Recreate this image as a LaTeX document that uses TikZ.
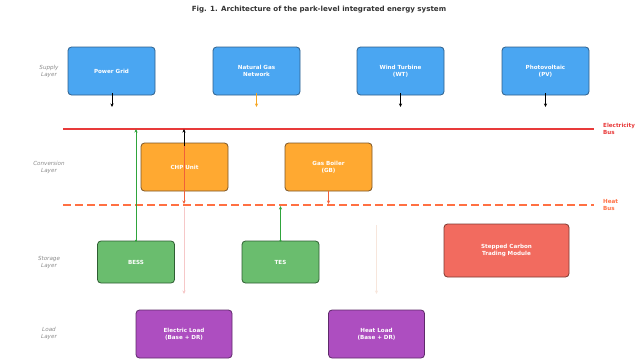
\documentclass[tikz,border=0pt]{standalone}
\usepackage{fontspec}
\setmainfont{DejaVu Sans}
\usetikzlibrary{arrows.meta}
\definecolor{cblue}{HTML}{4AA6F2}
\definecolor{cblueE}{HTML}{2F5F8A}
\definecolor{corange}{HTML}{FFA931}
\definecolor{corangeE}{HTML}{7A5528}
\definecolor{cgreen}{HTML}{6ABD6E}
\definecolor{cgreenE}{HTML}{2E5E32}
\definecolor{cpurple}{HTML}{AD4EC0}
\definecolor{cpurpleE}{HTML}{5E2A6A}
\definecolor{cred}{HTML}{F26B5F}
\definecolor{credE}{HTML}{7E3A32}
\definecolor{ebus}{HTML}{E83A3A}
\definecolor{hbus}{HTML}{FF7043}
\definecolor{cgas}{HTML}{F5A623}
\definecolor{cheat}{HTML}{F0603A}
\definecolor{felec}{HTML}{F6C8C8}
\definecolor{fheat}{HTML}{F7E6DC}
\definecolor{layergray}{HTML}{8A8A8A}
\definecolor{titlegray}{HTML}{333333}
\definecolor{arrgreen}{HTML}{2FA43C}
\begin{document}
\begin{tikzpicture}[x=1pt,y=-1pt,
  box/.style={draw, rounded corners=3.5pt, line width=0.8pt, align=center, text=white,
    font=\fontsize{5.6}{7}\selectfont\bfseries, inner sep=0pt,
    minimum width=87pt, minimum height=48pt},
  bluebox/.style={box, fill=cblue, draw=cblueE},
  orangebox/.style={box, fill=corange, draw=corangeE},
  greenbox/.style={box, fill=cgreen, draw=cgreenE, minimum width=77pt, minimum height=42pt},
  purplebox/.style={box, fill=cpurple, draw=cpurpleE, minimum width=96pt},
  redbox/.style={box, fill=cred, draw=credE, minimum width=125pt, minimum height=53pt},
  layerlbl/.style={align=center, text=layergray, font=\fontsize{5.6}{7}\selectfont\itshape, inner sep=0pt},
  buslbl/.style={align=left, anchor=west, font=\fontsize{5.6}{7}\selectfont\bfseries, inner sep=0pt},
  arr/.style={-{Stealth[length=3.6pt,width=3.2pt]}, line width=0.75pt},
]
\useasboundingbox (0,0) rectangle (640,362);

% title
\node[font=\fontsize{7.1}{9}\selectfont\bfseries, text=titlegray] (title) at (319,10) {Fig. 1. Architecture of the park-level integrated energy system};

% layer labels
\node[layerlbl] (lsup) at (49,71) {Supply\\Layer};
\node[layerlbl] (lcon) at (49,167) {Conversion\\Layer};
\node[layerlbl] (lsto) at (49,262) {Storage\\Layer};
\node[layerlbl] (lload) at (49,333) {Load\\Layer};

% buses
\coordinate (eb1) at (63,129);
\coordinate (eb2) at (594,129);
\coordinate (hb1) at (63,205);
\coordinate (hb2) at (594,205);
\draw[ebus, line width=1.8pt] (eb1) -- (eb2);
\draw[hbus, line width=1.6pt, dash pattern=on 8pt off 4pt] (hb1) -- (hb2);
\node[buslbl, text=ebus] (eblbl) at (603,129) {Electricity\\Bus};
\node[buslbl, text=hbus] (hblbl) at (603,205) {Heat\\Bus};

% supply
\node[bluebox] (pg) at (111.5,71) {Power Grid};
\node[bluebox] (ng) at (256.5,71) {Natural Gas\\Network};
\node[bluebox] (wt) at (400.5,71) {Wind Turbine\\(WT)};
\node[bluebox] (pv) at (545.5,71) {Photovoltaic\\(PV)};

% conversion
\node[orangebox] (chp) at (184.5,167) {CHP Unit};
\node[orangebox] (gb) at (328.5,167) {Gas Boiler\\(GB)};

% storage
\node[greenbox] (bess) at (136,262) {BESS};
\node[greenbox] (tes) at (280.5,262) {TES};
\node[redbox] (sctm) at (506.5,250.5) {Stepped Carbon\\Trading Module};

% load
\node[purplebox] (el) at (184,334) {Electric Load\\(Base + DR)};
\node[purplebox] (hl) at (376.5,334) {Heat Load\\(Base + DR)};

% supply arrows
\coordinate (pgE) at (112,107);
\coordinate (ngE) at (256.5,107);
\coordinate (wtE) at (400.5,107);
\coordinate (pvE) at (545.5,107);
\draw[arr, black] ([yshift=2pt]pg.south -| pgE) -- (pgE);
\draw[arr, cgas] ([yshift=2pt]ng.south) -- (ngE);
\draw[arr, black] ([yshift=2pt]wt.south) -- (wtE);
\draw[arr, black] ([yshift=2pt]pv.south) -- (pvE);

% CHP arrows
\coordinate (chpO) at (184,146);
\draw[arr, black] (chpO) -- (chpO |- eb1);
\draw[arr, cheat, line width=0.6pt] (chpO) -- ([yshift=1pt]chpO |- hb1);
% GB arrow
\draw[arr, cheat, line width=0.6pt] (gb.south) -- ([yshift=1pt]gb.south |- hb1);

% storage arrows
\draw[arrgreen, fill=arrgreen] (bess.north) circle (0.8pt);
\draw[arr, arrgreen, line width=0.9pt] (bess.north) -- (bess.north |- eb1);
\draw[arrgreen, fill=arrgreen] (tes.north) circle (0.8pt);
\draw[arr, arrgreen, line width=0.9pt] (tes.north) -- ([yshift=-1pt]tes.north |- hb1);

% faint load arrows
\coordinate (elS) at (184,207);
\coordinate (elE) at (184,294);
\coordinate (hlS) at (376.5,225);
\coordinate (hlE) at (376.5,294);
\draw[arr, felec, line width=0.6pt] (elS) -- (elE);
\draw[arr, fheat, line width=0.9pt] (hlS) -- (hlE);
\end{tikzpicture}
\end{document}
